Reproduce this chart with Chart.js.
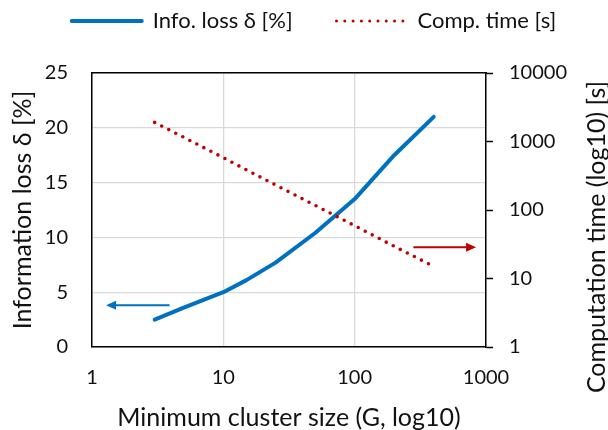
<!DOCTYPE html>
<html>
<head>
<meta charset="utf-8">
<script src="https://cdn.jsdelivr.net/npm/chart.js@4.4.0/dist/chart.umd.min.js"></script>
<style>
  body { margin: 0; background: #fff; }
  #chart { display: block; }
</style>
</head>
<body>
<canvas id="chart" width="608" height="430"></canvas>
<script>
// data
var seriesNames = ["Info. loss \u03b4 [%]", "Comp. time [s]"];
var clusterSizes = [3, 5, 10, 15, 25, 50, 100, 200, 400];
var infoLoss = [2.5, 3.6, 5.0, 6.1, 7.7, 10.4, 13.5, 17.5, 21.0];
var compTime = [1900, 1150, 580, 385, 232, 117, 59, 29.5, 15];

var xTicks = [1, 10, 100, 1000];
var lossTicks = [0, 5, 10, 15, 20, 25];
var timeTicks = [1, 10, 100, 1000, 10000];

var xTitle = "Minimum cluster size (G, log10)";
var lossTitle = "Information loss \u03b4 [%]";
var timeTitle = "Computation time (log10) [s]";

// arrows pointing to the axis each series belongs to (data coords)
var lossArrow = [[3.9, 3.8], [1.28, 3.8]];
var timeArrow = [[280, 28.5], [840, 28.5]];

var BLUE = "#0070C0";
var RED = "#C00000";
var GRID = "#D9D9D9";
var INK = "#111";
var FONT = "Lato";

Chart.defaults.font.family = FONT;
Chart.defaults.color = INK;

function pairs(xs, ys) {
    var out = [];
    for (var i = 0; i < xs.length; i++) out.push({x: xs[i], y: ys[i]});
    return out;
}

function fixTicks(list) {
    return function(scale) {
        scale.ticks = list.map(function(v) { return {value: v}; });
    };
}

var arrowPlugin = {
    id: "arrows",
    afterDatasetsDraw: function(chart) {
        var ctx = chart.ctx;
        function arrow(pts, yScale, color) {
            var xs = chart.scales.x, ys = chart.scales[yScale];
            var x0 = xs.getPixelForValue(pts[0][0]), y0 = ys.getPixelForValue(pts[0][1]);
            var x1 = xs.getPixelForValue(pts[1][0]), y1 = ys.getPixelForValue(pts[1][1]);
            var dir = x1 > x0 ? 1 : -1;
            ctx.save();
            ctx.strokeStyle = color;
            ctx.fillStyle = color;
            ctx.lineWidth = 2;
            ctx.beginPath();
            ctx.moveTo(x0, y0);
            ctx.lineTo(x1 - dir * 8, y1);
            ctx.stroke();
            ctx.beginPath();
            ctx.moveTo(x1, y1);
            ctx.lineTo(x1 - dir * 10, y1 - 4.5);
            ctx.lineTo(x1 - dir * 10, y1 + 4.5);
            ctx.closePath();
            ctx.fill();
            ctx.restore();
        }
        arrow(lossArrow, "y", BLUE);
        arrow(timeArrow, "y2", RED);
    }
};

// right axis title reads bottom-to-top like the left one
var rightTitlePlugin = {
    id: "rightTitle",
    afterLayout: function(chart) {
        // nudge legend row a little to the right, as in the original
        if (chart.legend) {
            chart.legend.left += 10;
            chart.legend.right += 10;
        }
    },
    afterDraw: function(chart) {
        var ctx = chart.ctx;
        var s = chart.scales.y2;
        ctx.save();
        ctx.translate(s.right - 11, (s.top + s.bottom) / 2 + 27);
        ctx.rotate(-Math.PI / 2);
        ctx.font = "25px " + FONT;
        ctx.fillStyle = INK;
        ctx.textAlign = "center";
        ctx.textBaseline = "middle";
        ctx.fillText(timeTitle, 0, 0);
        ctx.restore();
    }
};

var ctx = document.getElementById("chart");
var chart = new Chart(ctx, {
    type: "line",
    data: {
        datasets: [{
            label: seriesNames[0],
            data: pairs(clusterSizes, infoLoss),
            yAxisID: "y",
            borderColor: BLUE,
            backgroundColor: BLUE,
            borderWidth: 4,
            borderCapStyle: "round",
            borderJoinStyle: "round",
            pointRadius: 0,
            pointStyle: "line",
            tension: 0,
            order: 1
        }, {
            label: seriesNames[1],
            data: pairs(clusterSizes, compTime),
            yAxisID: "y2",
            borderColor: RED,
            backgroundColor: RED,
            borderWidth: 3.6,
            borderDash: [0, 7.9],
            borderCapStyle: "round",
            pointRadius: 0,
            pointStyle: "line",
            tension: 0,
            order: 0
        }]
    },
    options: {
        responsive: false,
        devicePixelRatio: 1,
        animation: false,
        layout: { padding: 0 },
        plugins: {
            tooltip: { enabled: false },
            legend: {
                position: "top",
                labels: {
                    usePointStyle: true,
                    pointStyleWidth: 70,
                    padding: 10,
                    font: { size: 22 },
                    color: INK,
                    sort: function(a, b) { return a.datasetIndex - b.datasetIndex; },
                    generateLabels: function(chart) {
                        var items = Chart.defaults.plugins.legend.labels.generateLabels(chart);
                        items.forEach(function(it) {
                            it.lineCap = "round";
                            if (it.datasetIndex === 0) {
                                it.text = it.text + "      ";
                                it.lineWidth = 4;
                                it.lineDash = [];
                            } else {
                                it.lineWidth = 3;
                                it.lineDash = [0, 8.3];
                            }
                        });
                        return items;
                    }
                }
            }
        },
        scales: {
            x: {
                type: "logarithmic",
                position: "bottom",
                min: 1,
                max: 1000,
                afterBuildTicks: fixTicks(xTicks),
                afterFit: function(s) { s.height = 83; },
                grid: { color: GRID, lineWidth: 1.3, drawTicks: false },
                border: { color: "#000", width: 1.5 },
                ticks: {
                    padding: 19,
                    font: { size: 20 },
                    callback: function(v) { return String(v); }
                },
                title: {
                    display: true,
                    text: xTitle,
                    font: { size: 25 },
                    padding: { top: 0, bottom: -3 }
                }
            },
            x2: {
                type: "logarithmic",
                position: "top",
                min: 1,
                max: 1000,
                afterFit: function(s) { s.height = 31; },
                grid: { display: false, drawTicks: false },
                border: { color: "#000", width: 1.5 },
                ticks: { display: false }
            },
            y: {
                type: "linear",
                position: "left",
                min: 0,
                max: 25,
                afterBuildTicks: fixTicks(lossTicks),
                afterFit: function(s) { s.width = 92; },
                grid: { color: GRID, lineWidth: 1.3, drawTicks: false },
                border: { color: "#000", width: 1.5 },
                ticks: { padding: 24, font: { size: 20 } },
                title: {
                    display: true,
                    text: lossTitle,
                    font: { size: 25 },
                    padding: { top: 8, bottom: 0 }
                }
            },
            y2: {
                type: "logarithmic",
                position: "right",
                min: 1,
                max: 10000,
                afterBuildTicks: fixTicks(timeTicks),
                afterFit: function(s) { s.width = 122; },
                grid: {
                    drawOnChartArea: false,
                    drawTicks: true,
                    tickLength: 7,
                    tickColor: "#000",
                    tickWidth: 1.5
                },
                border: { color: "#000", width: 1.5 },
                ticks: {
                    padding: 16,
                    font: { size: 20 },
                    callback: function(v) { return String(v); }
                },
                title: { display: false }
            }
        }
    },
    plugins: [arrowPlugin, rightTitlePlugin]
});
</script>
</body>
</html>
